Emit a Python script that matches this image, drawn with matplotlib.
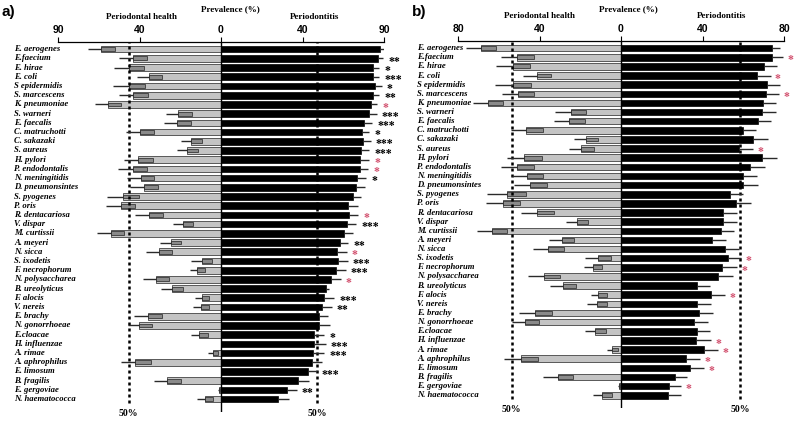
import numpy as np
import matplotlib
matplotlib.use('Agg')
import matplotlib.pyplot as plt
from matplotlib import transforms

# 物种名（两个面板相同顺序）
species = ['E. aerogenes', 'E.faecium', 'E. hirae', 'E. coli', 'S epidermidis',
           'S. marcescens', 'K. pneumoniae', 'S. warneri', 'E. faecalis',
           'C. matruchotti', 'C. sakazaki', 'S. aureus', 'H. pylori',
           'P. endodontalis', 'N. meningitidis', 'D. pneumonsintes', 'S. pyogenes',
           'P. oris', 'R. dentacariosa', 'V. dispar', 'M. curtissii', 'A. meyeri',
           'N. sicca', 'S. ixodetis', 'F. necrophorum', 'N. polysaccharea',
           'B. ureolyticus', 'F. alocis', 'V. nereis', 'E. brachy',
           'N. gonorrhoeae', 'E.cloacae', 'H. influenzae', 'A. rimae',
           'A. aphrophilus', 'E. limosum', 'B. fragilis', 'E. gergoviae',
           'N. haematococca']

# a) 牙周健康（左侧，灰色）
a_health = [58.9, 43.0, 45.0, 35.3, 45.0, 43.0, 55.6, 20.9, 21.4, 39.8,
            14.7, 16.5, 40.6, 43.4, 39.4, 37.8, 47.9, 49.3, 35.2, 18.5,
            54.1, 24.7, 30.3, 9.5, 11.6, 32.1, 24.2, 9.3, 10.0, 35.7,
            40.1, 10.6, 0.0, 3.8, 42.2, 0.0, 26.3, 1.0, 7.9]
a_health_box = [6.9, 6.8, 7.2, 6.2, 7.5, 7.0, 6.3, 6.5, 6.5, 7.1,
                5.2, 5.4, 7.4, 6.9, 6.7, 6.7, 7.8, 7.1, 6.9, 4.9,
                6.5, 5.3, 6.4, 5.2, 3.7, 6.7, 5.4, 3.6, 4.3, 6.9,
                6.1, 4.4, 0.0, 2.5, 7.7, 0.0, 6.7, 0.5, 4.1]
a_health_err = [6.4, 7.0, 7.4, 5.8, 7.9, 7.0, 6.2, 6.3, 6.4, 6.8,
                4.9, 5.3, 6.9, 7.0, 6.9, 6.9, 8.2, 7.1, 7.0, 4.9,
                6.6, 5.2, 6.7, 5.4, 3.6, 6.4, 5.4, 3.5, 3.9, 6.8,
                5.7, 4.3, 0.0, 2.4, 7.1, 0.0, 6.4, 0.6, 3.7]
# a) 牙周炎（右侧，黑色）
a_perio = [78.0, 76.9, 74.8, 74.8, 75.6, 74.4, 73.5, 72.8, 70.4, 69.0,
           69.5, 68.7, 68.2, 68.2, 66.9, 66.3, 64.6, 62.5, 63.0, 62.0,
           60.4, 58.4, 57.1, 57.3, 56.4, 54.0, 51.5, 50.6, 49.4, 48.3,
           48.1, 45.8, 45.6, 45.3, 44.8, 42.9, 37.6, 32.2, 28.1]
a_perio_err = [2.5, 2.8, 2.9, 2.9, 3.3, 3.3, 3.2, 3.6, 3.9, 3.8,
               4.0, 3.9, 4.4, 4.1, 4.3, 4.4, 4.0, 4.6, 4.4, 4.3,
               4.5, 4.1, 4.6, 4.9, 4.8, 4.7, 1.5, 5.0, 4.9, 4.4,
               5.4, 4.9, 5.8, 5.3, 4.6, 4.0, 5.6, 4.9, 5.4]
a_stars = ['', '**', '*', '***', '*', '**', '*', '***', '***', '*',
           '***', '***', '*', '*', '*', '', '', '', '*', '***',
           '', '**', '*', '***', '***', '*', '', '***', '**', '',
           '', '*', '***', '***', '', '***', '', '**', '']
a_red = [6, 12, 13, 18, 22, 25]
a_ticklabels = ['90', '40', '0', '40', '90']
a_cut = [45.2, 47.1]

# b)
b_health = [68.9, 50.9, 53.2, 41.4, 53.2, 50.7, 65.4, 24.7, 25.4, 46.8,
            17.2, 19.6, 47.4, 50.9, 46.3, 44.7, 56.1, 57.8, 41.4, 21.8,
            63.5, 29.1, 35.7, 11.1, 13.6, 37.8, 28.6, 11.1, 11.9, 42.2,
            47.1, 12.8, 0.0, 4.4, 49.2, 0.0, 30.8, 0.8, 9.2]
b_health_box = [7.6, 8.4, 8.5, 6.9, 8.9, 8.2, 7.3, 7.4, 7.7, 8.7,
                6.1, 6.3, 8.5, 8.4, 8.2, 8.2, 9.3, 8.2, 8.5, 5.8,
                7.4, 6.2, 7.7, 6.0, 4.4, 7.9, 6.5, 4.4, 4.9, 8.2,
                7.0, 5.3, 0.0, 3.1, 8.3, 0.0, 7.4, 0.4, 4.6]
b_health_err = [7.3, 8.0, 8.3, 6.9, 8.6, 7.9, 7.1, 7.7, 7.3, 7.2,
                5.9, 5.9, 8.7, 8.0, 7.0, 7.7, 9.5, 8.5, 7.8, 5.4,
                7.3, 6.1, 7.7, 6.6, 4.4, 7.7, 6.2, 3.8, 4.6, 7.9,
                6.6, 4.9, 0.0, 2.5, 8.2, 0.0, 7.6, 0.5, 4.4]
b_perio = [74.3, 74.3, 70.3, 66.9, 71.5, 71.2, 69.5, 69.4, 67.1, 60.0,
           64.9, 57.9, 69.4, 63.3, 59.7, 59.7, 53.5, 56.3, 49.9, 49.9,
           48.9, 44.5, 51.0, 52.3, 49.7, 47.8, 37.1, 44.0, 37.1, 38.3,
           35.8, 37.1, 36.8, 40.7, 31.9, 33.9, 26.5, 23.7, 22.9]
b_perio_err = [3.7, 5.4, 6.1, 6.6, 6.5, 6.5, 6.4, 6.5, 6.4, 6.3,
               7.1, 7.0, 7.3, 7.4, 6.9, 7.7, 6.5, 7.5, 7.2, 6.9,
               6.7, 7.0, 7.1, 6.6, 7.4, 7.0, 6.6, 7.0, 6.9, 6.7,
               6.7, 6.6, 7.4, 7.1, 6.9, 6.8, 6.0, 5.7, 6.5]
b_stars = ['', '*', '', '*', '', '*', '', '', '', '',
           '', '*', '', '', '', '', '', '', '', '',
           '', '', '', '*', '*', '', '', '*', '', '',
           '', '', '*', '*', '*', '*', '', '*', '']
b_red = [i for i, s in enumerate(b_stars) if s]
b_ticklabels = ['80', '40', '0', '40', '80']
b_cut = [53.5, 58.4]

serif = 'Liberation Serif'
sans = 'Liberation Sans'
red = '#d2506e'
W, H = 800, 422

fig = plt.figure(figsize=(8, 4.22), dpi=100)


def ftext(px, py, s, **kw):
    # 以像素坐标放置图级文字
    fig.text(px / W, 1 - py / H, s, **kw)


def draw_panel(rect, health, hbox, herr, perio, perr, stars, reds,
               ticklabels, cut, label_x, star_ha, star_off):
    ax = fig.add_axes(rect)
    n = len(species)
    y = np.arange(n)
    h = np.array(health)
    p = np.array(perio)
    he = np.array(herr)
    pe = np.array(perr)
    zero = np.zeros(n)
    m = h > 0

    # 灰色条（牙周健康）
    ax.barh(y[m], -h[m], height=0.72, color='#c4c4c4', edgecolor='#222222', lw=0.5, zorder=2)
    ax.barh(y[m], np.array(hbox)[m], left=-h[m], height=0.42, color='#8a8a8a',
            edgecolor='#222222', lw=0.5, zorder=3)
    ax.errorbar(-h[m], y[m], xerr=[he[m], zero[m]], fmt='none', ecolor='#2a2a2a',
                elinewidth=1.0, capsize=0, zorder=6)
    # 黑色条（牙周炎）
    ax.barh(y, p, height=0.72, color='black', edgecolor='black', lw=0.5, zorder=2)
    ax.errorbar(p, y, xerr=[zero, pe], fmt='none', ecolor='#2a2a2a',
                elinewidth=1.0, capsize=0, zorder=6)

    ax.axvline(0, color='black', lw=1.0, zorder=4)
    for c in [-cut[0], cut[1]]:
        ax.axvline(c, ymin=0.025, color='black', lw=1.8, ls=(0, (1.2, 1.2)), zorder=5)

    ax.set_xlim(-80, 80)
    ax.set_ylim(n - 1 + 1.4, -0.78)
    ax.xaxis.tick_top()
    ax.set_xticks([-80, -40, 0, 40, 80])
    ax.set_xticklabels(ticklabels, fontfamily=sans, fontweight='bold', fontsize=7.5)
    ax.tick_params(axis='x', direction='out', length=3.5, width=0.8, pad=1.5)
    ax.set_yticks([])
    for s in ['left', 'right', 'bottom']:
        ax.spines[s].set_visible(False)
    ax.spines['top'].set_linewidth(0.9)

    trans = transforms.blended_transform_factory(fig.transFigure, ax.transData)
    for i, name in enumerate(species):
        ax.text(label_x, i, name, transform=trans, ha='left', va='center',
                fontfamily=serif, fontstyle='italic', fontweight='bold', fontsize=6.2)
        if stars[i]:
            ax.text(perio[i] + perr[i] + star_off, i + 0.35, stars[i], ha=star_ha, va='center',
                    fontfamily=serif, fontweight='bold', fontsize=8.5,
                    color=red if i in reds else 'black', clip_on=False)
    return ax


draw_panel([58 / W, 1 - 412 / H, 326 / W, 370 / H],
           a_health, a_health_box, a_health_err, a_perio, a_perio_err,
           a_stars, a_red, a_ticklabels, a_cut, 14 / W, 'left', 2.5)
draw_panel([458 / W, 1 - 408 / H, 326 / W, 367 / H],
           b_health, b_health_box, b_health_err, b_perio, b_perio_err,
           b_stars, b_red, b_ticklabels, b_cut, 417 / W, 'center', 3.5)

hdr = dict(ha='center', va='center', fontfamily=serif, fontweight='bold', fontsize=6.5)
ftext(230, 9, 'Prevalence (%)', **hdr)
ftext(142, 17, 'Periodontal health', **hdr)
ftext(315, 17, 'Periodontitis', **hdr)
ftext(628, 9, 'Prevalence (%)', **hdr)
ftext(539, 16, 'Periodontal health', **hdr)
ftext(722, 16, 'Periodontitis', **hdr)

pct = dict(ha='center', va='center', fontfamily=serif, fontweight='bold', fontsize=7)
ftext(128, 414, '50%', **pct)
ftext(317, 414, '50%', **pct)
ftext(511, 410, '50%', **pct)
ftext(740, 410, '50%', **pct)

ftext(2, 12, 'a)', ha='left', va='center', fontfamily=sans, fontweight='bold', fontsize=11)
ftext(412, 12, 'b)', ha='left', va='center', fontfamily=sans, fontweight='bold', fontsize=11)

fig.savefig('out.png', dpi=100)
